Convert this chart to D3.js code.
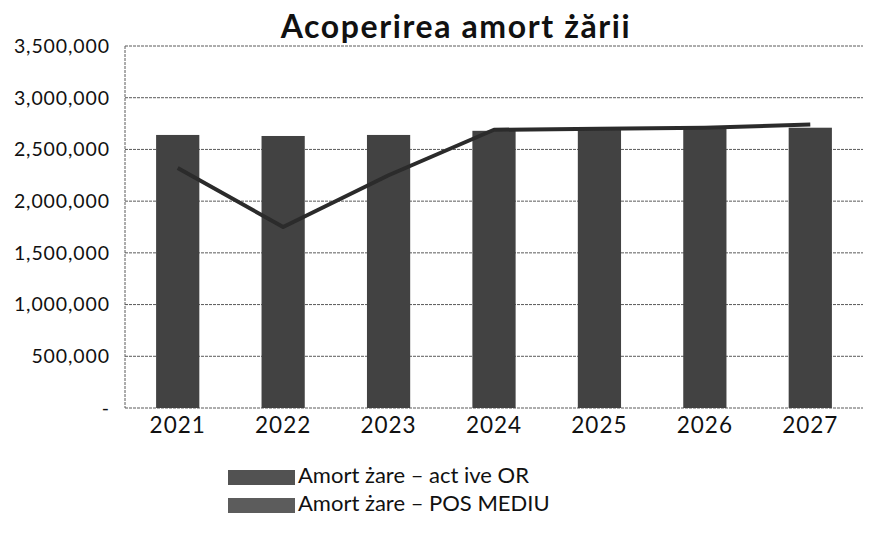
<!DOCTYPE html>
<html><head><meta charset="utf-8">
<script src="https://cdn.jsdelivr.net/npm/d3@7"></script>
<style>body{margin:0;background:#fff}svg{display:block}</style>
</head><body><svg id="c" width="873" height="533"></svg>
<script>
const years = ["2021","2022","2023","2024","2025","2026","2027"];
const activeOR = [2640000, 2630000, 2640000, 2680000, 2690000, 2700000, 2710000];
const posMediu = [2320000, 1750000, 2250000, 2690000, 2700000, 2710000, 2740000];
const yTicks = [0, 500000, 1000000, 1500000, 2000000, 2500000, 3000000, 3500000];
const seriesNames = ["Amort żare – act ive OR", "Amort żare – POS MEDIU"];
const title = "Acoperirea amort żării";

const svg = d3.select("#c");
const font = "Lato, 'Open Sans', sans-serif";
const x = d3.scaleBand().domain(years).range([125, 863]).paddingInner(0.59).paddingOuter(0.295);
const y = d3.scaleLinear().domain([0, 3500000]).range([408, 46]);

// gridlines
svg.append("g").selectAll("line").data(yTicks).join("line")
  .attr("x1", 125).attr("x2", 863)
  .attr("y1", d => y(d)).attr("y2", d => y(d))
  .attr("stroke", "#5a5a5a").attr("stroke-width", 1).attr("stroke-dasharray", "3,1");
svg.append("line").attr("x1",125).attr("x2",125).attr("y1",y(3500000)).attr("y2",y(0))
  .attr("stroke","#5a5a5a").attr("stroke-dasharray","3,1");

// y axis labels
const fmt = d => d === 0 ? "-" : d3.format(",")(d);
svg.append("g").selectAll("text").data(yTicks).join("text")
  .attr("x", 110).attr("y", d => y(d)).attr("dy", "0.35em")
  .attr("text-anchor", "end").attr("font-family", font).attr("font-size", 19.5)
  .attr("letter-spacing", 0.9)
  .attr("fill", "#111").text(fmt);

// bars
svg.append("g").selectAll("rect").data(years).join("rect")
  .attr("x", d => x(d)).attr("width", x.bandwidth())
  .attr("y", (d,i) => y(activeOR[i])).attr("height", (d,i) => y(0) - y(activeOR[i]))
  .attr("fill", "#424242");

// line
const line = d3.line().x((d,i) => x(years[i]) + x.bandwidth()/2).y(d => y(d));
svg.append("path").datum(posMediu).attr("d", line)
  .attr("fill", "none").attr("stroke", "#2b2b2b").attr("stroke-width", 4).attr("stroke-linejoin","round");

// x labels
svg.append("g").selectAll("text").data(years).join("text")
  .attr("x", d => x(d) + x.bandwidth()/2).attr("y", 433)
  .attr("text-anchor", "middle").attr("font-family", font).attr("font-size", 22.5)
  .attr("letter-spacing", 1)
  .attr("fill", "#111").text(d => d);

// title
svg.append("text").attr("x", 456).attr("y", 38).attr("text-anchor", "middle")
  .attr("font-family", font).attr("font-weight", "bold").attr("font-size", 32)
  .attr("letter-spacing", 1.6)
  .attr("fill", "#111").text(title);

// legend
const lg = svg.append("g").selectAll("g").data(seriesNames).join("g")
  .attr("transform", (d,i) => `translate(228,${470 + i*28})`);
lg.append("rect").attr("width", 67).attr("height", 15).attr("fill", (d,i) => i ? "#5c5c5c" : "#525252");
lg.append("text").attr("x", 70).attr("y", 13)
  .attr("font-family", font).attr("font-size", 22).attr("fill", "#111").text(d => d);
</script></body></html>
